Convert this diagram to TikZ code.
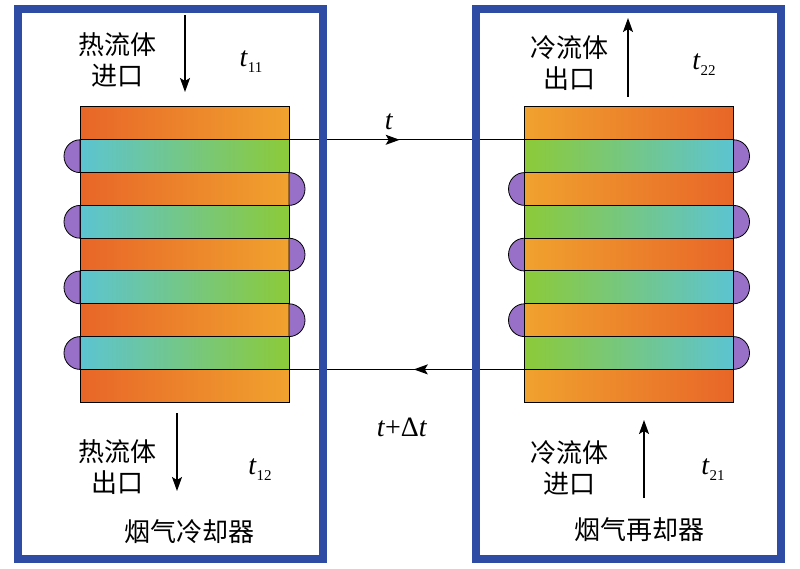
\documentclass[tikz,border=0pt]{standalone}
\usepackage{fontspec}
\setmainfont{Liberation Serif}
\newfontfamily\cjk{Noto Sans CJK SC}
\usepackage{xcolor}
\usepackage{tikz}
\usetikzlibrary{arrows.meta,decorations.markings,positioning}

\definecolor{hotdark}{RGB}{232,102,40}
\definecolor{hotlight}{RGB}{240,162,46}
\definecolor{tubecyan}{RGB}{92,196,210}
\definecolor{tubegreen}{RGB}{140,202,56}
\definecolor{bendpurple}{RGB}{152,112,200}
\definecolor{frameblue}{RGB}{46,76,164}

\newcommand{\tvar}[1]{\textit{t}\raisebox{-6pt}{\fontsize{15}{15}\selectfont #1}}

\begin{document}
\begin{tikzpicture}[x=1pt,y=1pt,>={Stealth[length=14pt,width=10pt,inset=3pt]},node distance=32.8pt,
	strip/.style={draw=black,line width=1pt,minimum width=209pt,minimum height=32.8pt,inner sep=0pt,outer sep=0pt},
	hotband/.style={strip,left color=hotdark,right color=hotlight},
	tubeband/.style={strip,left color=tubecyan,right color=tubegreen},
	hotbandR/.style={strip,left color=hotlight,right color=hotdark},
	tubebandR/.style={strip,left color=tubegreen,right color=tubecyan},
	tubebend/.style={draw=black,line width=0.8pt,fill=bendpurple},
	unit/.style={draw=frameblue,line width=8pt,minimum width=305pt,minimum height=550pt},
	flowline/.style={draw=black,line width=1.2pt},
	midarrow/.style={postaction={decorate},decoration={markings,mark=at position #1 with {\arrow{>}}}},
	cjklabel/.style={align=center,inner sep=0pt,font=\cjk\fontsize{26}{31}\selectfont},
	tlabel/.style={inner sep=0pt,font=\fontsize{28}{30}\selectfont}]
	\useasboundingbox (0,0) rectangle (800,568);
	
	% left stack (cooler)
	\node[hotband]  (L0) at (184.5,444.6) {};
	\node[tubeband] (L1) [below of=L0] {};
	\node[hotband]  (L2) [below of=L1] {};
	\node[tubeband] (L3) [below of=L2] {};
	\node[hotband]  (L4) [below of=L3] {};
	\node[tubeband] (L5) [below of=L4] {};
	\node[hotband]  (L6) [below of=L5] {};
	\node[tubeband] (L7) [below of=L6] {};
	\node[hotband]  (L8) [below of=L7] {};
	
	% right stack (reheater)
	\node[hotbandR]  (R0) at (629,444.6) {};
	\node[tubebandR] (R1) [below of=R0] {};
	\node[hotbandR]  (R2) [below of=R1] {};
	\node[tubebandR] (R3) [below of=R2] {};
	\node[hotbandR]  (R4) [below of=R3] {};
	\node[tubebandR] (R5) [below of=R4] {};
	\node[hotbandR]  (R6) [below of=R5] {};
	\node[tubebandR] (R7) [below of=R6] {};
	\node[hotbandR]  (R8) [below of=R7] {};
	
	% tube bends
	\path[tubebend]
	(L1.north west) arc[start angle=90,end angle=270,x radius=16,y radius=16.4] -- cycle
	(L3.north west) arc[start angle=90,end angle=270,x radius=16,y radius=16.4] -- cycle
	(L5.north west) arc[start angle=90,end angle=270,x radius=16,y radius=16.4] -- cycle
	(L7.north west) arc[start angle=90,end angle=270,x radius=16,y radius=16.4] -- cycle
	(L2.south east) arc[start angle=-90,end angle=90,x radius=16,y radius=16.4] -- cycle
	(L4.south east) arc[start angle=-90,end angle=90,x radius=16,y radius=16.4] -- cycle
	(L6.south east) arc[start angle=-90,end angle=90,x radius=16,y radius=16.4] -- cycle
	(R1.south east) arc[start angle=-90,end angle=90,x radius=16,y radius=16.4] -- cycle
	(R3.south east) arc[start angle=-90,end angle=90,x radius=16,y radius=16.4] -- cycle
	(R5.south east) arc[start angle=-90,end angle=90,x radius=16,y radius=16.4] -- cycle
	(R7.south east) arc[start angle=-90,end angle=90,x radius=16,y radius=16.4] -- cycle
	(R2.north west) arc[start angle=90,end angle=270,x radius=16,y radius=16.4] -- cycle
	(R4.north west) arc[start angle=90,end angle=270,x radius=16,y radius=16.4] -- cycle
	(R6.north west) arc[start angle=90,end angle=270,x radius=16,y radius=16.4] -- cycle;
	
	% connecting pipes
	\draw[flowline,midarrow=0.47] (L1.north east) -- (R1.north west);
	\draw[flowline,midarrow=0.47] (R8.north west) -- (L8.north east);
	\node[tlabel] (tpipe) at (389,446) {\textit{t}};
	\node[tlabel] (tback) at (402,141) {\textit{t}+Δ\textit{t}};
	
	% frames
	\node[unit] (cooler)   at (170.5,284) {};
	\node[unit] (reheater) at (628.5,284) {};
	
	% flow directions
	\coordinate (hin1)  at (185,553);
	\coordinate (hin2)  at (185,476);
	\coordinate (hout1) at (177,155);
	\coordinate (hout2) at (177,77);
	\coordinate (cout1) at (628,471);
	\coordinate (cout2) at (628,550);
	\coordinate (cin1)  at (644,70);
	\coordinate (cin2)  at (644,148);
	\draw[->,line width=1.4pt] (hin1) -- (hin2);
	\draw[->,line width=1.4pt] (hout1) -- (hout2);
	\draw[->,line width=1.4pt] (cout1) -- (cout2);
	\draw[->,line width=1.4pt] (cin1) -- (cin2);
	
	% labels
	\node[cjklabel] (hotin)   at (117,508)   {热流体\\进口};
	\node[cjklabel] (hotout)  at (117,100.5) {热流体\\出口};
	\node[cjklabel] (coldout) at (569,504.5) {冷流体\\出口};
	\node[cjklabel] (coldin)  at (569,100.5) {冷流体\\进口};
	\node[cjklabel] (coolname)  at (189,36) {烟气冷却器};
	\node[cjklabel] (reheatname) at (639,38) {烟气再却器};
	\node[tlabel] (t11) at (251,506) {\tvar{11}};
	\node[tlabel] (t12) at (260,98)  {\tvar{12}};
	\node[tlabel] (t22) at (704,503) {\tvar{22}};
	\node[tlabel] (t21) at (713,98)  {\tvar{21}};
\end{tikzpicture}
\end{document}
